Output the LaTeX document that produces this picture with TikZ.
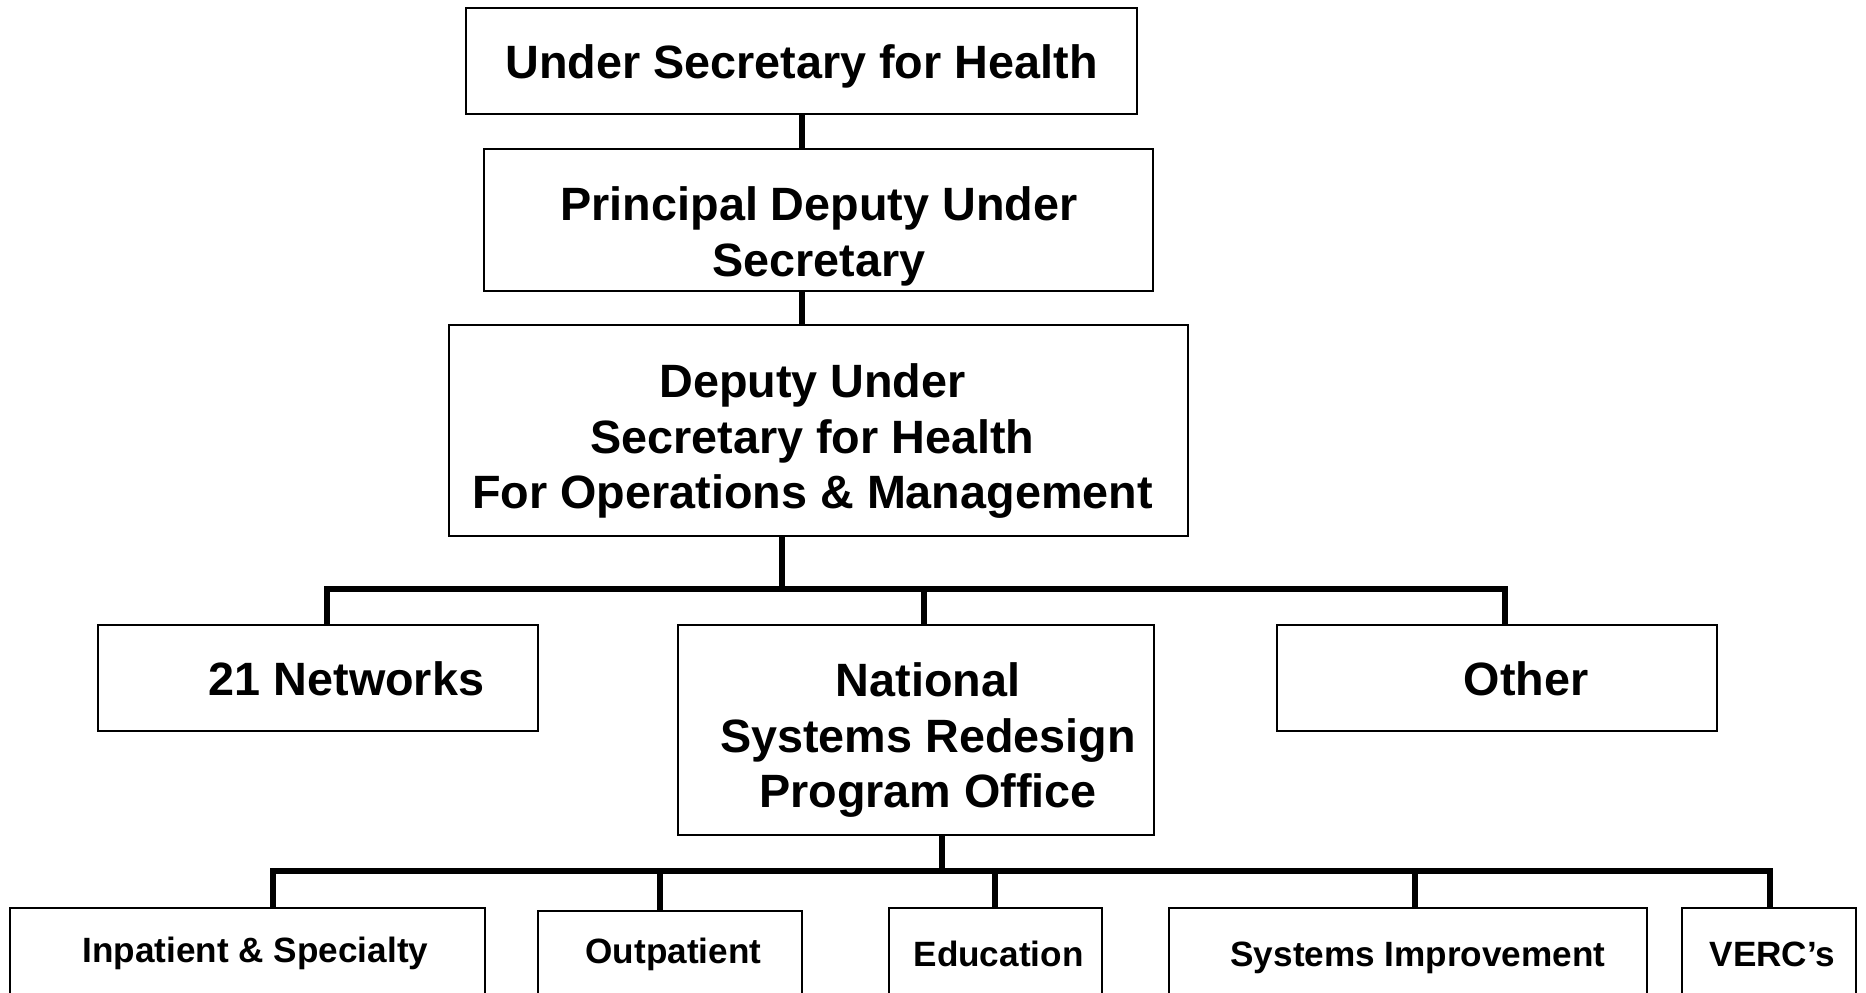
\documentclass[tikz,border=0pt]{standalone}
\usepackage{fontspec}
\setmainfont{Liberation Sans}
\usepackage{tikz}

\begin{document}
\begin{tikzpicture}[
  box/.style={draw,line width=0.5pt,inner sep=0pt},
  lbl/.style={inner sep=0pt,align=center,font=\fontsize{13.3}{15.9}\selectfont\bfseries},
  lowlbl/.style={inner sep=0pt,anchor=base,font=\fontsize{10}{12}\selectfont\bfseries},
  conn/.style={line width=1.7pt,line join=miter}]

  \useasboundingbox (0,0) rectangle (18.66,-9.92);
  \clip (0,0) rectangle (18.66,-9.92);

  %top of the chart
  \node[box,minimum width=6.71cm,minimum height=1.06cm] (usfh) at (8.015,-0.61) {};
  \node[box,minimum width=6.69cm,minimum height=1.42cm] (pdus) at (8.185,-2.20) {};
  \node[box,minimum width=7.39cm,minimum height=2.11cm] (dus) at (8.185,-4.305) {};
  \node[lbl] (usfhtxt) at (8.015,-0.66) {Under Secretary for Health};
  \node[lbl] (pdustxt) at (8.19,-2.36) {Principal Deputy Under\\Secretary};
  \node[lbl] (dustxt) at (8.125,-4.41) {Deputy Under\\Secretary for Health\\For Operations \& Management};

  %second row
  \node[box,minimum width=4.40cm,minimum height=1.06cm] (net) at (3.18,-6.78) {};
  \node[box,minimum width=4.76cm,minimum height=2.10cm] (nsr) at (9.16,-7.30) {};
  \node[box,minimum width=4.40cm,minimum height=1.06cm] (oth) at (14.97,-6.78) {};
  \node[lbl] (nettxt) at (3.465,-6.79) {21 Networks};
  \node[lbl] (nsrtxt) at (9.28,-7.40) {National\\Systems Redesign\\Program Office};
  \node[lbl] (othtxt) at (15.26,-6.79) {Other};

  %bottom row (cut off by the page)
  \node[box,minimum width=4.75cm,minimum height=1.2cm,anchor=north] (inp) at (2.475,-9.07) {};
  \node[box,minimum width=2.64cm,minimum height=1.2cm,anchor=north] (outp) at (6.70,-9.10) {};
  \node[box,minimum width=2.13cm,minimum height=1.2cm,anchor=north] (edu) at (9.955,-9.07) {};
  \node[box,minimum width=4.78cm,minimum height=1.2cm,anchor=north] (sim) at (14.08,-9.07) {};
  \node[box,minimum width=1.74cm,minimum height=1.2cm,anchor=north] (verc) at (17.69,-9.07) {};
  \node[lowlbl] (inptxt) at (2.555,-9.62) {Inpatient \& Specialty};
  \node[lowlbl] (outptxt) at (6.735,-9.63) {Outpatient};
  \node[lowlbl] (edutxt) at (9.985,-9.66) {Education};
  \node[lowlbl] (simtxt) at (14.18,-9.66) {Systems Improvement};
  \node[lowlbl] (verctxt) at (17.725,-9.66) {VERC’s};

  %links at the top
  \draw[conn] (usfh.south) -- (usfh.south |- pdus.north);
  \draw[conn] (pdus.south -| usfh.south) -- (dus.north -| usfh.south);

  %first bus
  \coordinate (busa) at (7.82,-5.89);
  \coordinate (neta) at (3.27,-5.89);
  \coordinate (nsra) at (9.24,-5.89);
  \coordinate (otha) at (15.05,-5.89);
  \draw[conn] (dus.south -| busa) -- (busa);
  \draw[conn] (neta |- net.north) -- (neta) -- (otha) -- (otha |- oth.north);
  \draw[conn] (nsra) -- (nsra |- nsr.north);

  %second bus
  \coordinate (busb) at (9.42,-8.71);
  \coordinate (inpb) at (2.73,-8.71);
  \coordinate (outpb) at (6.60,-8.71);
  \coordinate (edub) at (9.95,-8.71);
  \coordinate (simb) at (14.15,-8.71);
  \coordinate (vercb) at (17.70,-8.71);
  \draw[conn] (nsr.south -| busb) -- (busb);
  \draw[conn] (inpb |- inp.north) -- (inpb) -- (vercb) -- (vercb |- verc.north);
  \draw[conn] (outpb) -- (outpb |- outp.north);
  \draw[conn] (edub) -- (edub |- edu.north);
  \draw[conn] (simb) -- (simb |- sim.north);

\end{tikzpicture}
\end{document}
